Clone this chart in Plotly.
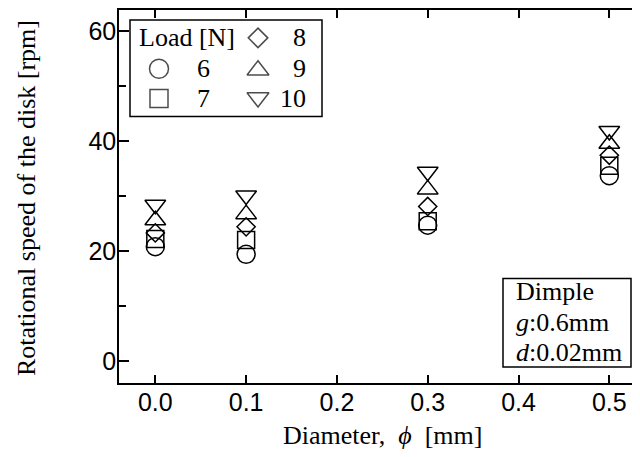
import plotly.graph_objects as go

# ---------------- data ----------------
diameter = [0.0, 0.1, 0.3, 0.5]
load_labels = ["6", "7", "8", "9", "10"]
speed_6 = [20.8, 19.4, 24.7, 33.7]
speed_7 = [22.2, 22.0, 25.4, 35.5]
speed_8 = [23.3, 24.4, 28.1, 37.4]
speed_9 = [25.6, 26.7, 31.2, 39.5]
speed_10 = [28.4, 30.1, 34.4, 41.8]
x_ticks = [0.0, 0.1, 0.2, 0.3, 0.4, 0.5]
x_tick_text = ["0.0", "0.1", "0.2", "0.3", "0.4", "0.5"]
y_ticks = [0, 20, 40, 60]

# ---------------- layout constants ----------------
OFF = 8                      # page body margin
W, H = 632, 449
L, R, T, B = 111, 0, 0, 74
PW, PH = W - L - R, H - T - B
SERIF = "Liberation Serif, Times New Roman, serif"
SANS = "Liberation Sans, Arial, sans-serif"
BLACK = "black"
LW = 1.5


def px(xp):
    return (xp - OFF - L) / PW


def py(yp):
    return (H - B - (yp - OFF)) / PH


series = [
    (speed_6, "circle-open", 18),
    (speed_7, "square-open", 17),
    (speed_8, "diamond-open", 14),
    (speed_9, "triangle-up-open", 18),
    (speed_10, "triangle-down-open", 18),
]

fig = go.Figure()
for (vals, sym, size), name in zip(series, load_labels):
    fig.add_trace(go.Scatter(
        x=diameter, y=vals, mode="markers", name=name, showlegend=False,
        marker=dict(symbol=sym, size=size, color=BLACK,
                    line=dict(color=BLACK, width=LW)),
        cliponaxis=False,
    ))

# legend keys (decoration, positioned in pixel space of the legend box)
key_px = [(159, 67), (159, 97), (258, 36), (258, 68.5), (258, 96)]
fig.add_trace(go.Scatter(
    x=[px(p[0]) for p in key_px], y=[py(p[1]) for p in key_px],
    xaxis="x2", yaxis="y3", mode="markers", showlegend=False, hoverinfo="skip",
    marker=dict(symbol=[s[1] for s in series], size=[s[2] + 1 for s in series],
                color=BLACK, line=dict(color=BLACK, width=LW)),
    cliponaxis=False,
))

fig.update_layout(
    width=W, height=H,
    margin=dict(l=L, r=R, t=T, b=B),
    paper_bgcolor="white", plot_bgcolor="white",
    showlegend=False,
    xaxis=dict(
        range=[-0.04, 0.5338], tickvals=x_ticks, ticktext=x_tick_text,
        ticks="inside", ticklen=8, tickwidth=LW, tickcolor=BLACK,
        showline=True, linecolor=BLACK, linewidth=LW, mirror="ticks",
        showgrid=False, zeroline=False, ticklabelstandoff=-4,
        tickfont=dict(family=SANS, size=25, color=BLACK),
    ),
    yaxis=dict(
        range=[-3.98, 63.8], tickvals=y_ticks,
        ticks="inside", ticklen=10, tickwidth=LW, tickcolor=BLACK,
        minor=dict(dtick=10, tick0=0, ticks="inside", ticklen=7,
                   tickwidth=LW, tickcolor=BLACK, showgrid=False),
        showline=True, linecolor=BLACK, linewidth=LW, mirror=False,
        showgrid=False, zeroline=False, ticklabelstandoff=-4,
        tickfont=dict(family=SANS, size=25, color=BLACK),
    ),
    yaxis2=dict(
        range=[-3.98, 63.8], overlaying="y", side="right", dtick=10, tick0=0,
        ticks="inside", ticklen=3, tickwidth=LW, tickcolor=BLACK,
        showticklabels=False, showline=False, showgrid=False, zeroline=False,
    ),
    xaxis2=dict(range=[0, 1], overlaying="x", visible=False),
    yaxis3=dict(range=[0, 1], overlaying="y", visible=False),
)

# legend box
fig.add_shape(type="rect", xref="paper", yref="paper",
              x0=px(130), x1=px(322), y0=py(115), y1=py(18),
              line=dict(color=BLACK, width=LW), fillcolor="rgba(0,0,0,0)")
# dimple box
fig.add_shape(type="rect", xref="paper", yref="paper",
              x0=px(503), x1=px(631), y0=py(367), y1=py(278),
              line=dict(color=BLACK, width=LW), fillcolor="white", layer="below")

annots = [
    ("Load [N]", 137, 36, "left"),
    (load_labels[0], 203, 67, "center"),
    (load_labels[1], 203, 97, "center"),
    (load_labels[2], 308, 36, "right"),
    (load_labels[3], 308, 67, "right"),
    (load_labels[4], 308, 97, "right"),
    ("Dimple", 514, 291, "left"),
    ("<i>g</i>:0.6mm", 514, 322, "left"),
    ("<i>d</i>:0.02mm", 514, 352, "left"),
]
for text, xp, yp, anchor in annots:
    fig.add_annotation(text=text, xref="paper", yref="paper", x=px(xp), y=py(yp),
                       xanchor=anchor, yanchor="middle", showarrow=False,
                       font=dict(family=SERIF, size=26, color=BLACK))

# axis titles
fig.add_annotation(text="Diameter,  <i>\u03d5</i>  [mm]", xref="paper", yref="paper",
                   x=px(382), y=py(436), xanchor="center", yanchor="middle",
                   showarrow=False, font=dict(family=SERIF, size=26, color=BLACK))
fig.add_annotation(text="Rotational speed of the disk [rpm]", xref="paper", yref="paper",
                   x=px(27), y=py(197), xanchor="center", yanchor="middle",
                   textangle=-90, showarrow=False,
                   font=dict(family=SERIF, size=26, color=BLACK))

fig.write_html("out.html")
